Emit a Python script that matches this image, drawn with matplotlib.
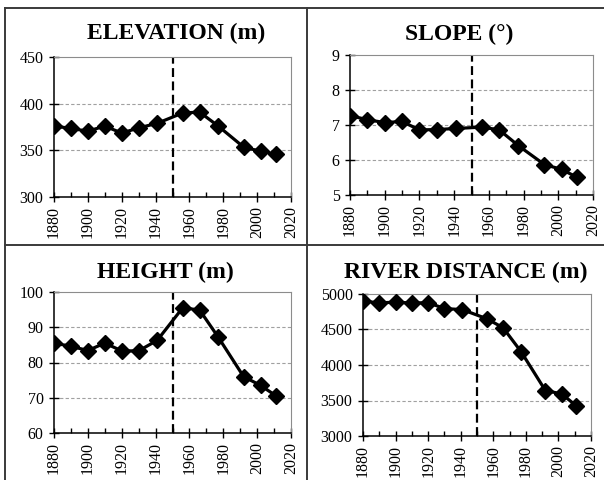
import matplotlib
matplotlib.use("Agg")
import matplotlib.pyplot as plt
from matplotlib.lines import Line2D
from matplotlib.ticker import MultipleLocator

plt.rcParams["font.family"] = ["Liberation Serif", "DejaVu Serif"]

# data
years = [1880, 1890, 1900, 1910, 1920, 1930, 1941, 1956, 1966, 1977, 1992, 2002, 2011]
elevation = [376, 373.5, 370.5, 376, 368.5, 374, 379, 390, 391, 376, 353.5, 349, 346]
slope = [7.27, 7.15, 7.07, 7.1, 6.86, 6.87, 6.9, 6.94, 6.86, 6.41, 5.87, 5.73, 5.5]
height = [85.5, 84.6, 83.4, 85.5, 83.3, 83.3, 86.3, 95.5, 94.9, 87.2, 76, 73.5, 70.6]
river = [4900, 4875, 4885, 4873, 4878, 4795, 4780, 4652, 4525, 4190, 3640, 3593, 3424]
break_year = 1950

W, H = 604, 480
fig = plt.figure(figsize=(W / 100, H / 100), dpi=100)


def px_rect(left, top, right, bottom):
    return [left / W, 1 - bottom / H, (right - left) / W, (bottom - top) / H]


panels = [
    # title, values, ylim, ystep, axes box (px), title centre (px)
    ("ELEVATION (m)", elevation, (300, 450), 50, (54, 57, 291, 197), (176, 33)),
    ("SLOPE (\u00b0)", slope, (5, 9), 1, (350, 55, 593, 195), (459, 34)),
    ("HEIGHT (m)", height, (60, 100), 10, (54, 292, 291, 433), (165, 272)),
    ("RIVER DISTANCE (m)", river, (3000, 5000), 500, (363, 294, 591, 436), (466, 272)),
]

for title, vals, ylim, ystep, box, tpos in panels:
    ax = fig.add_axes(px_rect(*box))
    ax.plot(years, vals, color="black", lw=2.3, marker="D", ms=8, zorder=3)
    ax.axvline(break_year, color="black", lw=1.6, ls=(0, (4, 2)), zorder=2)
    ax.set_xlim(1880, 2020)
    ax.set_ylim(*ylim)
    ax.xaxis.set_major_locator(MultipleLocator(20))
    ax.xaxis.set_minor_locator(MultipleLocator(10))
    ax.yaxis.set_major_locator(MultipleLocator(ystep))
    # dashed grid at the inner y ticks only
    for y in range(1, round((ylim[1] - ylim[0]) / ystep)):
        ax.axhline(ylim[0] + y * ystep, color="#a0a0a0", lw=0.8, ls=(0, (3, 2)), zorder=1)
    ax.tick_params(axis="x", which="major", direction="inout", length=7, width=1,
                   labelsize=11.5, labelrotation=90, pad=3)
    ax.tick_params(axis="x", which="minor", direction="in", length=3.5, width=1)
    ax.tick_params(axis="y", which="major", direction="inout", length=7, width=1,
                   labelsize=11.5, pad=4)
    for s in ["top", "right"]:
        ax.spines[s].set_color("#8c8c8c")
        ax.spines[s].set_linewidth(0.8)
    for s in ["left", "bottom"]:
        ax.spines[s].set_color("black")
        ax.spines[s].set_linewidth(1.1)
    fig.text(tpos[0] / W, 1 - tpos[1] / H, title, ha="center", va="center",
             fontsize=17, fontweight="bold")

# table-like frame around the four panels
frame = dict(color="#3a3a3a", lw=1.4, transform=fig.transFigure)
fig.add_artist(Line2D([5 / W, 5 / W], [0, 1 - 8 / H], **frame))
fig.add_artist(Line2D([5 / W, 1], [1 - 8 / H, 1 - 8 / H], **frame))
fig.add_artist(Line2D([307 / W, 307 / W], [0, 1 - 8 / H], **frame))
fig.add_artist(Line2D([5 / W, 1], [1 - 245 / H, 1 - 245 / H], **frame))

fig.savefig("out.png", dpi=100)
